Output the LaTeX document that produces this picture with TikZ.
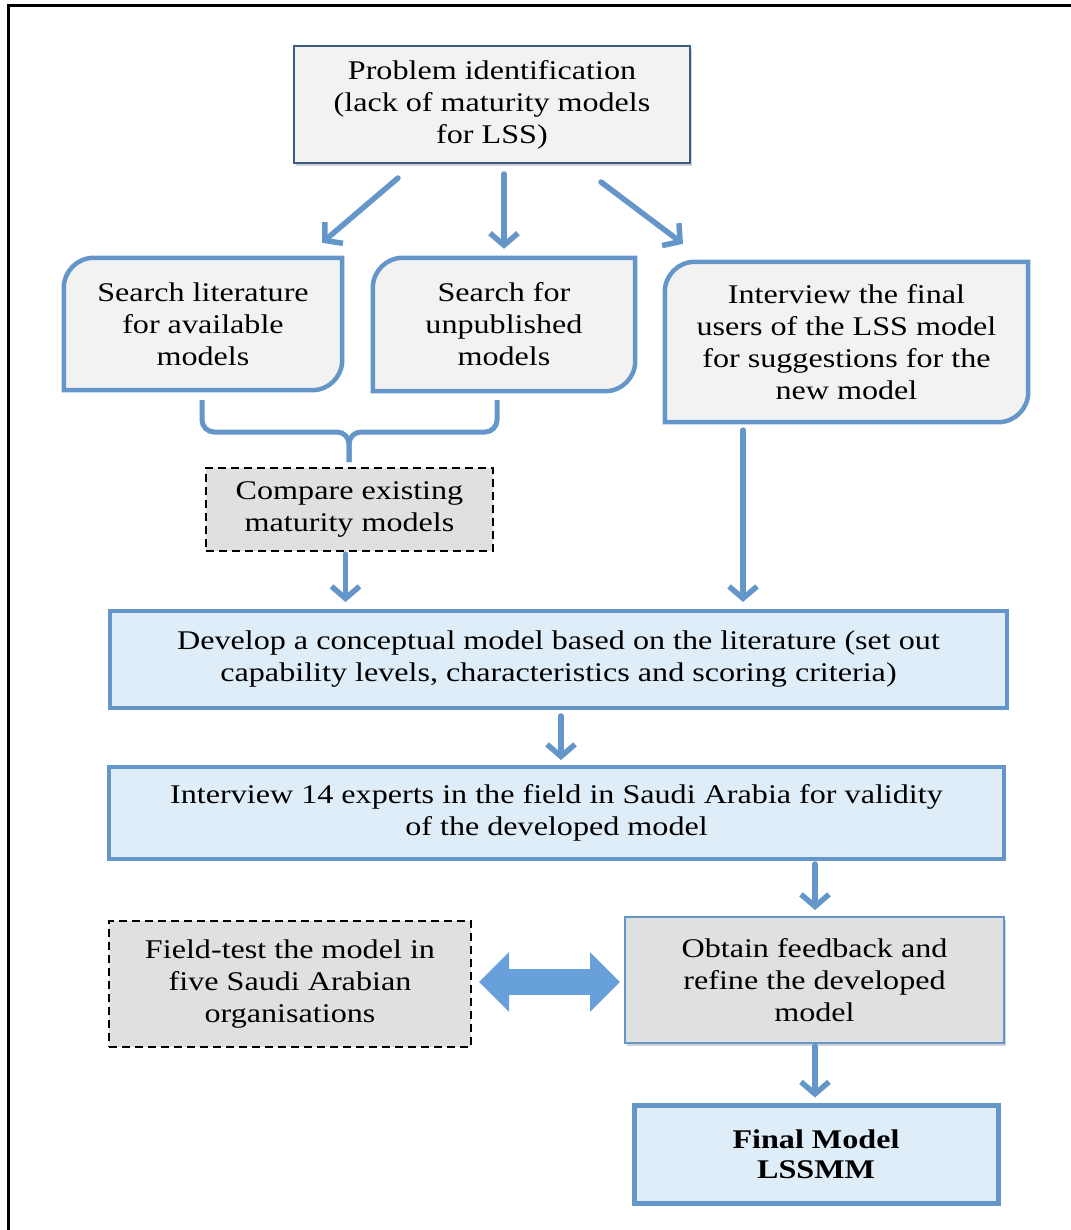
\documentclass[tikz,border=0pt]{standalone}
\usepackage{fontspec}
\setmainfont{Liberation Serif}[FakeStretch=1.19]
\usepackage{xcolor}
\usetikzlibrary{calc, positioning, arrows.meta, shadows, backgrounds}

\definecolor{lineblue}{RGB}{100,150,202}
\definecolor{blockblue}{RGB}{104,160,220}
\definecolor{navyline}{RGB}{62,92,130}
\definecolor{palegray}{RGB}{242,242,242}
\definecolor{midgray}{RGB}{224,224,224}
\definecolor{paleblue}{RGB}{222,237,247}

\begin{document}
\begin{tikzpicture}[x=1pt, y=-1pt,
    font=\fontsize{27}{32}\selectfont,
    textbox/.style={inner sep=0pt, align=center},
    probbox/.style={textbox, draw=navyline, line width=2pt, fill=palegray,
        drop shadow={shadow xshift=2pt, shadow yshift=-3pt, opacity=0.35}},
    searchline/.style={draw=lineblue, line width=4.5pt, fill=palegray},
    dashbox/.style={textbox, draw=black, line width=2.2pt, dash pattern=on 8pt off 5pt, fill=midgray},
    bluebox/.style={textbox, draw=lineblue, line width=4pt, fill=paleblue},
    obtainbox/.style={textbox, draw=lineblue, line width=2pt, fill=midgray,
        drop shadow={shadow xshift=2pt, shadow yshift=-3pt, opacity=0.35}},
    flowarrow/.style={draw=lineblue, line width=5.5pt, line cap=round,
        -{Straight Barb[length=12pt, width=28pt]}},
    braceline/.style={draw=lineblue, line width=5pt, rounded corners=12pt},
    bigarrow/.style={draw=blockblue, line width=26pt,
        {Triangle[length=30pt, width=58pt]}-{Triangle[length=30pt, width=58pt]}}]

    % =================================================================
    % 1. KHUNG VA CAC NUT
    % =================================================================
    \useasboundingbox (0,0) rectangle (1070,1230);
    \draw[line width=3pt] (8,1235) -- (8,6) -- (1075,6);

    \node[probbox, minimum width=396pt, minimum height=117pt] (prob) at (492,104.5)
        {Problem identification\\(lack of maturity models\\for LSS)};

    \node[textbox, minimum width=278pt, minimum height=132pt] (searchlit) at (203,324)
        {Search literature\\for available\\models};
    \node[textbox, minimum width=262pt, minimum height=133pt] (searchunp) at (504,324.5)
        {Search for\\unpublished\\models};
    \node[textbox, minimum width=363pt, minimum height=160pt] (intfinal) at (846.5,342)
        {Interview the final\\users of the LSS model\\for suggestions for the\\new model};

    \node[dashbox, minimum width=287pt, minimum height=83pt] (compare) at (349.5,509.5)
        {Compare existing\\maturity models};

    \node[bluebox, minimum width=897pt, minimum height=97pt] (develop) at (558.5,659.5)
        {Develop a conceptual model based on the literature (set out\\capability levels, characteristics and scoring criteria)};
    \node[bluebox, minimum width=895pt, minimum height=92pt] (intexp) at (556.5,813)
        {Interview 14 experts in the field in Saudi Arabia for validity\\of the developed model};

    \node[dashbox, minimum width=362pt, minimum height=126pt] (fieldtest) at (290,984)
        {Field-test the model in\\five Saudi Arabian\\organisations};
    \node[obtainbox, minimum width=379pt, minimum height=126pt] (obtain) at (814.5,980)
        {Obtain feedback and\\refine the developed\\model};

    \node[bluebox, line width=5pt, minimum width=364pt, minimum height=98pt, font=\fontsize{27}{30}\selectfont\bfseries] (final) at (816,1154)
        {Final Model\\LSSMM};

    % Khung bo goc cho ba o tim kiem
    \begin{pgfonlayer}{background}
    \foreach \nd in {searchlit, searchunp, intfinal}
        \draw[searchline] (\nd.north east) [rounded corners=30pt] -- (\nd.south east)
            [sharp corners] -- (\nd.south west) [rounded corners=30pt] -- (\nd.north west)
            [sharp corners] -- cycle;
    \end{pgfonlayer}

    % =================================================================
    % 2. CAC MUI TEN
    % =================================================================
    \draw[flowarrow] ($(prob.south)+(-94,14)$) -- ($(searchlit.north)+(119,-15)$);
    \draw[flowarrow] ($(prob.south)+(12,10)$) -- ($(searchunp.north)+(0,-9)$);
    \draw[flowarrow] ($(prob.south)+(109,18)$) -- ($(intfinal.north)+(-163.5,-18)$);

    % Dau ngoac gop hai nhanh
    \coordinate (bracemid) at (349,432);
    \coordinate (bracetip) at (349,462);
    \draw[braceline] ($(searchlit.south)+(-1,10)$) |- (bracemid) -- (bracetip);
    \draw[braceline] ($(searchunp.south)+(-7,9)$) |- (bracemid) -- (bracetip);

    \coordinate (cmpfoot) at ($(compare.south)+(-4,2)$);
    \draw[flowarrow] (cmpfoot) -- ($(cmpfoot |- develop.north)+(0,-7)$);
    \coordinate (intfoot) at ($(intfinal.south)+(-103.5,8)$);
    \draw[flowarrow] (intfoot) -- ($(intfoot |- develop.north)+(0,-7)$);
    \coordinate (devfoot) at ($(develop.south)+(2.5,6)$);
    \draw[flowarrow] (devfoot) -- ($(devfoot |- intexp.north)+(0,-5)$);
    \coordinate (expfoot) at ($(intexp.south)+(258.5,3)$);
    \draw[flowarrow] (expfoot) -- ($(expfoot |- obtain.north)+(0,-6)$);
    \coordinate (obtfoot) at ($(obtain.south)+(0.5,2)$);
    \draw[flowarrow] (obtfoot) -- ($(obtfoot |- final.north)+(0,-5)$);

    % Mui ten hai chieu
    \draw[bigarrow] ($(fieldtest.east)+(7,-2)$) -- ($(obtain.west)+(-4,2)$);

\end{tikzpicture}
\end{document}
